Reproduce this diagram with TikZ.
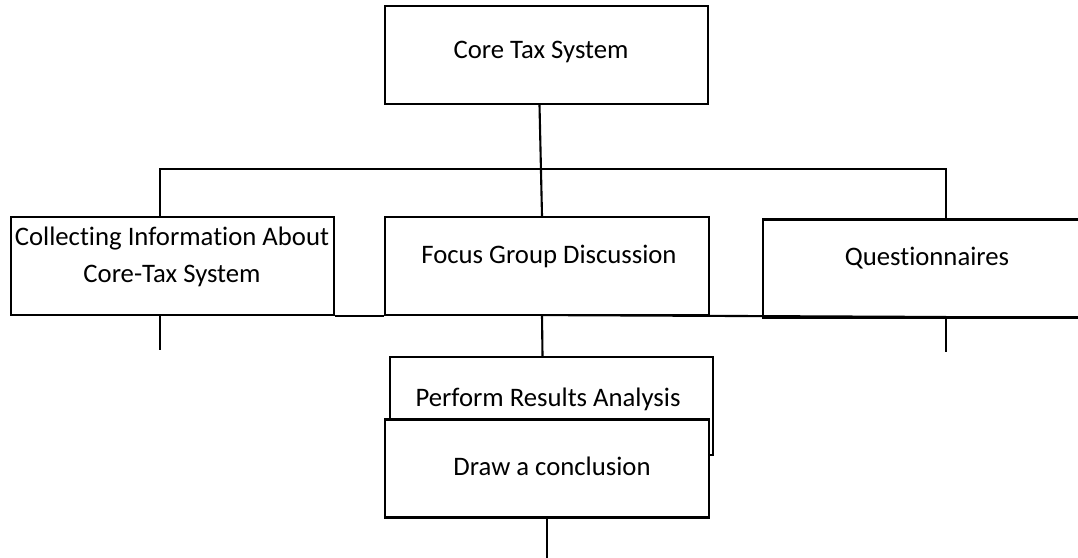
\documentclass[tikz,border=0pt]{standalone}
\usepackage{fontspec}
\setmainfont{Carlito}[Ligatures=NoCommon]
\usepackage{tikz}
\usetikzlibrary{calc}

\tikzset{
  box/.style={draw, fill=white, line width=1.5pt, inner sep=0pt,
    minimum width=8.08cm, minimum height=2.45cm},
  txt/.style={inner sep=0pt, align=center,
    font=\fontsize{19pt}{26.5pt}\selectfont}
}

\begin{document}
\begin{tikzpicture}[x=0.025cm, y=-0.025cm, line width=1.5pt]
\useasboundingbox (0,0) rectangle (1078,558);

\node (core) at (546.5,55) [box] {};
\node (collect) at (172.5,266) [box] {};
\node (focus) at (547,266) [box] {};
\node (quest) at (925,268.5) [box] {};

\node (coretxt) at (541,52) [txt] {Core Tax System};
\node (collecttxt) at (172,257) [txt] {Collecting Information About\\Core-Tax System};
\node (focustxt) at (549,256) [txt] {Focus Group Discussion};
\node (questtxt) at (927,258) [txt] {Questionnaires};

\node (perform) at (551.5,406) [box] {};
\node (performtxt) at (548,399) [txt] {Perform Results Analysis};
\node (concl) at (547,468.5) [box] {};
\node (concltxt) at (552,466) [txt] {Draw a conclusion};

\coordinate (split) at (540,169);
\coordinate (qfoot) at (946,317);
\coordinate (cend) at (160,350);
\coordinate (qend) at (946,352);
\coordinate (dend) at (547,560);

\draw ($(core.south)+(-7,0)$) -- ($(focus.north)+(-5,0)$);
\draw ($(collect.north)+(-12.5,0)$) |- (split) -| ($(quest.north)+(21,0)$);

\draw (collect.south east) -- (focus.south west);
\draw ($(focus.south)+(-5,-1)$) -- (qfoot);
\draw ($(focus.south)+(-5,-1)$) -- ($(perform.north)+(-9,0)$);
\draw ($(collect.south)+(-12.5,0)$) -- (cend);
\draw (qfoot) -- (qend);
\draw (concl.south) -- (dend);
\end{tikzpicture}
\end{document}
